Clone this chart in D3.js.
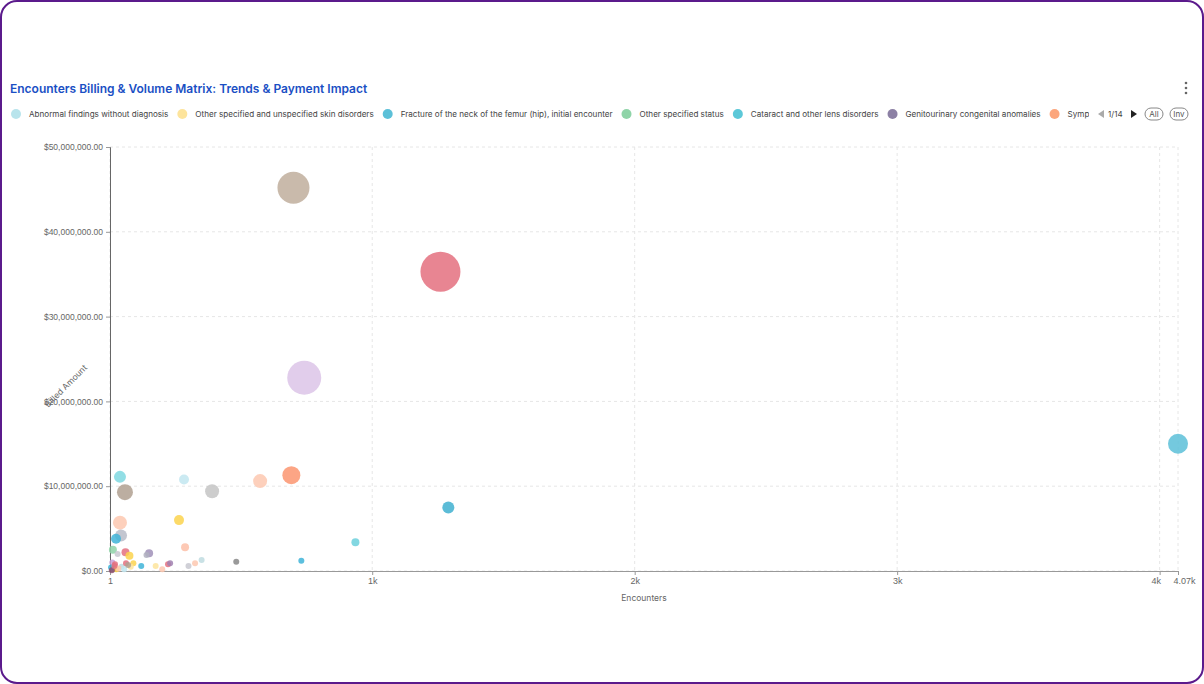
<!DOCTYPE html><html><head><meta charset="utf-8">
<script src="https://cdn.jsdelivr.net/npm/d3@7"></script>
<style>body{margin:0;background:#fff;font-family:Inter,"Noto Sans",sans-serif}</style></head><body>
<svg id="c" width="1204" height="684"></svg>
<script>
const legendNames=["Abnormal findings without diagnosis","Other specified and unspecified skin disorders","Fracture of the neck of the femur (hip), initial encounter","Other specified status","Cataract and other lens disorders","Genitourinary congenital anomalies","Symptoms"];
const legendColors=["#b8e4ec","#fde49c","#5cc0d8","#8fd4a8","#5cc8d8","#8c80a4","#fca67c"];
const encounters=[700,1260,741,4070,692,573,390,283,39,58,39,264,43,24,1290,936,482,730,287,12,30,60,75,90,120,140,150,175,222,230,325,350,10,20,45,62,80,15,25,5,8,34,18,55,70,300,200];
const billed=[45.2,35.3,22.8,15.0,11.3,10.6,9.4,10.8,11.1,9.3,5.7,6.0,4.2,3.8,7.5,3.4,1.1,1.2,2.8,2.5,2.0,2.2,1.8,0.9,0.6,1.9,2.1,0.6,0.8,0.9,0.9,1.3,1.0,0.8,0.5,0.9,0.5,0.3,0.2,0.4,0.1,0.3,0.6,0.2,0.7,0.6,0.2];
const radius=[16,20,17,10,9,7,7,5,6,8,7,5,6,5,6,4,3,3,4,4,3,4,4,3,3,3,4,3,3,3,3,3,3,3,3,3,3,3,3,3,3,3,3,3,3,3,3];
const colors=["#bfae9c","#e4707f","#dcc4e8","#5cc0d8","#fc9570","#fdc8b0","#c4c4c4","#c2e6f0","#7fd8e0","#b0a090","#fdc8b0","#fcd34d","#b8bcc8","#40b4d8","#40b0d0","#6cd0dc","#888888","#40b4d8","#fdc0a8","#8fd4a8","#c8c8d0","#e4707f","#fcd34d","#fcd34d","#40b4d8","#b0b0c0","#a090b8","#fde49c","#e4707f","#a080b0","#fdc8b0","#c0dce0","#c8a0d8","#e4707f","#c0dce0","#e4707f","#fde49c","#8c80a4","#fcd34d","#40b4d8","#8c5070","#fdc8b0","#e4707f","#c2e6f0","#b0a090","#c8c8d0","#fdc8b0"];
const xTicks=[1,1000,2000,3000,4000,4070];
const xTickLabels=["1","1k","2k","3k","4k","4.07k"];
const yTicks=[0,10,20,30,40,50];

const svg=d3.select("#c");
svg.append("rect").attr("x",1).attr("y",1).attr("width",1202).attr("height",682).attr("rx",16).attr("fill","#fff").attr("stroke","#5b1a8c").attr("stroke-width",2);
svg.append("text").attr("x",10).attr("y",93).attr("fill","#1a4fc4").attr("font-size",12).attr("font-weight",600).text("Encounters Billing & Volume Matrix: Trends & Payment Impact");
[0,1,2].forEach(i=>svg.append("circle").attr("cx",1186).attr("cy",83+i*5).attr("r",1.3).attr("fill","#666"));
svg.append("clipPath").attr("id","lc").append("rect").attr("x",0).attr("y",100).attr("width",1089).attr("height",30);
let lx=10;const lg=svg.append("g").attr("clip-path","url(#lc)");
legendNames.forEach((n,i)=>{lg.append("circle").attr("cx",lx+6).attr("cy",114).attr("r",5).attr("fill",legendColors[i]);
 const t=lg.append("text").attr("x",lx+19).attr("y",117).attr("font-size",8.1).attr("fill","#444").text(n);
 lx+=19+t.node().getComputedTextLength()+8;});
svg.append("path").attr("d","M1104,110 l-6,4 l6,4z").attr("fill","#aaa");
svg.append("text").attr("x",1108).attr("y",117).attr("font-size",8).attr("fill","#444").text("1/14");
svg.append("path").attr("d","M1131,110 l6,4 l-6,4z").attr("fill","#222");
[["All",1154],["Inv",1179]].forEach(([t,x])=>{svg.append("rect").attr("x",x-9).attr("y",108).attr("width",18).attr("height",12).attr("rx",6).attr("fill","none").attr("stroke","#888");
 svg.append("text").attr("x",x).attr("y",117).attr("text-anchor","middle").attr("font-size",8).attr("fill","#555").text(t);});
const x=d3.scaleLinear().domain([1,4070]).range([110,1178]);
const y=d3.scaleLinear().domain([0,50]).range([571,147]);
const grid=svg.append("g").attr("stroke","#e6e6e6").attr("stroke-dasharray","3,3");
yTicks.forEach(t=>grid.append("line").attr("x1",110).attr("x2",1178).attr("y1",y(t)).attr("y2",y(t)));
xTicks.forEach(t=>grid.append("line").attr("x1",x(t)).attr("x2",x(t)).attr("y1",147).attr("y2",571));
const gx=svg.append("g").attr("transform","translate(0,571)").call(d3.axisBottom(x).tickValues(xTicks).tickFormat((d,i)=>xTickLabels[i]).tickSize(4));
gx.selectAll("text").attr("font-size",9).attr("fill","#666");gx.selectAll("line,path").attr("stroke","#999");
gx.selectAll(".tick").filter(d=>d===4000).select("text").attr("dx",-4);
gx.selectAll(".tick").filter(d=>d===4070).select("text").attr("dx",6);
const gy=svg.append("g").attr("transform","translate(110,0)").call(d3.axisLeft(y).tickValues(yTicks).tickFormat(d=>"$"+d3.format(",.2f")(d*1e6)).tickSize(4));
gy.selectAll("text").attr("font-size",8.5).attr("fill","#666");gy.selectAll("line,path").attr("stroke","#999");gy.select("path").attr("stroke","#666");
svg.append("text").attr("x",644).attr("y",601).attr("text-anchor","middle").attr("font-size",8.5).attr("fill","#666").text("Encounters");
svg.append("text").attr("transform","translate(68,388) rotate(-45)").attr("text-anchor","middle").attr("font-size",8.5).attr("fill","#666").text("Billed Amount");
const order=d3.range(encounters.length).sort((a,b)=>radius[b]-radius[a]);
svg.append("g").selectAll("circle").data(order).join("circle").attr("cx",i=>x(encounters[i])).attr("cy",i=>y(billed[i])).attr("r",i=>radius[i]).attr("fill",i=>colors[i]).attr("opacity",0.85);
</script></body></html>
